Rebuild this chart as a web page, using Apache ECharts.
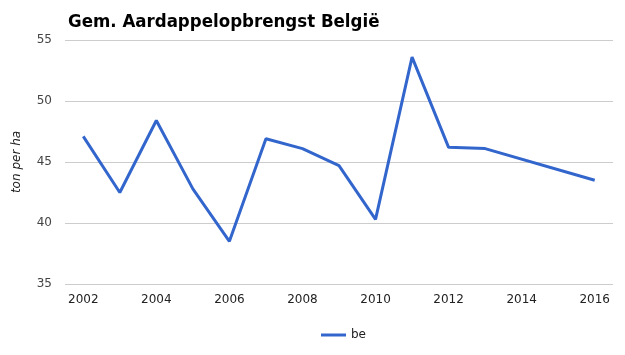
<!DOCTYPE html>
<html>
<head>
<meta charset="utf-8">
<script src="https://cdn.jsdelivr.net/npm/echarts@6/dist/echarts.min.js"></script>
<style>
  html, body { margin: 0; padding: 0; background: #fff; }
  #chart { width: 625px; height: 355px; }
</style>
</head>
<body>
<div id="chart"></div>
<script>
const titleText = 'Gem. Aardappelopbrengst België'
const yAxisTitle = 'ton per ha'
const seriesName = 'be'
const years = ['2002', '2003', '2004', '2005', '2006', '2007', '2008', '2009',
  '2010', '2011', '2012', '2013', '2014', '2015', '2016']
// 2014 en 2015 ontbreken, lijn loopt recht door
const yields = [47.1, 42.5, 48.4, 42.8, 38.5, 46.9, 46.1, 44.7,
  40.3, 53.6, 46.2, 46.1, null, null, 43.5]
const yMin = 35
const yMax = 55
const yStep = 5

const chart = echarts.init(document.getElementById('chart'))
const option = {
  animation: false,
  color: ['#3366cc'],
  title: {
    text: titleText,
    left: 63,
    top: 8,
    textStyle: {
      fontFamily: 'DejaVu Sans Condensed',
      fontWeight: 'bold',
      fontSize: 18.5,
      color: '#000'
    }
  },
  grid: {
    left: 65,
    right: 12,
    top: 40,
    bottom: 71
  },
  legend: {
    top: 324,
    left: 316,
    icon: 'rect',
    itemWidth: 25,
    itemHeight: 3,
    itemGap: 6,
    data: [seriesName],
    textStyle: {
      fontFamily: 'DejaVu Sans',
      fontSize: 12,
      color: '#222'
    }
  },
  xAxis: {
    type: 'category',
    boundaryGap: true,
    data: years,
    axisLine: { show: false },
    axisTick: { show: false },
    axisLabel: {
      interval: 1,
      margin: 10,
      fontFamily: 'DejaVu Sans',
      fontSize: 12,
      color: '#222'
    }
  },
  yAxis: {
    type: 'value',
    min: yMin,
    max: yMax,
    interval: yStep,
    name: yAxisTitle,
    nameLocation: 'middle',
    nameRotate: 90,
    nameGap: 42,
    nameTextStyle: {
      fontFamily: 'DejaVu Sans',
      fontStyle: 'italic',
      fontSize: 12,
      color: '#222'
    },
    axisLabel: {
      margin: 13,
      fontFamily: 'DejaVu Sans',
      fontSize: 12,
      color: '#444'
    },
    splitLine: {
      lineStyle: { color: '#cccccc', width: 1 }
    }
  },
  series: [
    {
      name: seriesName,
      type: 'line',
      data: yields,
      connectNulls: true,
      symbol: 'none',
      lineStyle: { width: 3, color: '#3366cc' }
    }
  ]
}
chart.setOption(option, true)
</script>
</body>
</html>
